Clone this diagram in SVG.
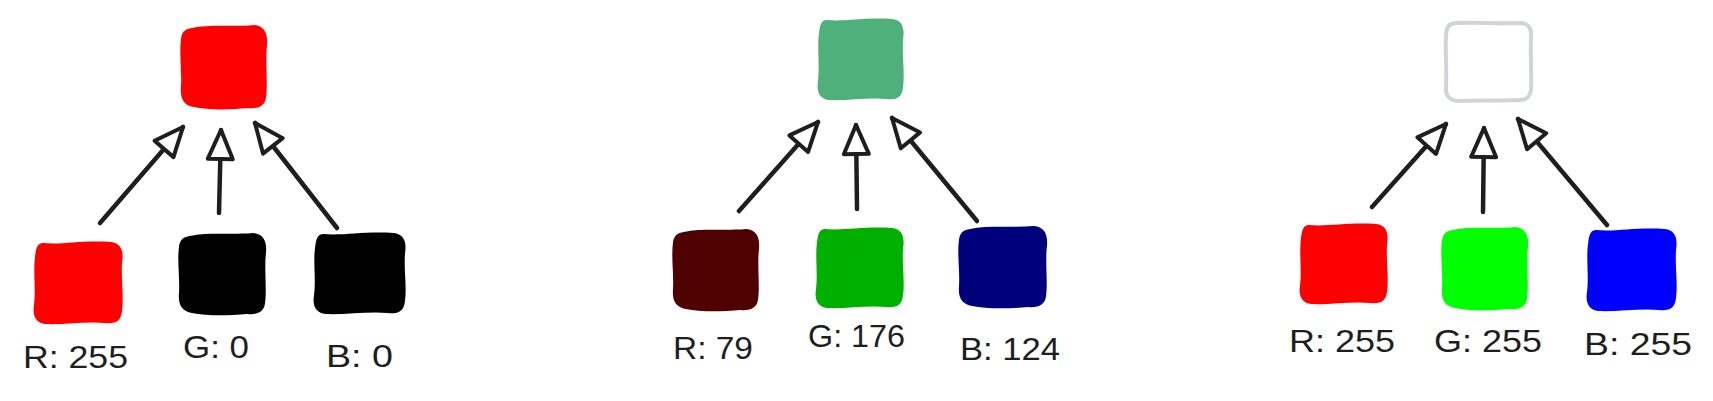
<svg xmlns="http://www.w3.org/2000/svg" width="1713" height="401" viewBox="0 0 1713 401">
<style>
.lbl{font-family:"Liberation Sans","DejaVu Sans",sans-serif;font-size:31px;fill:#1e1e1e}
.conn{stroke:#1e1e1e;stroke-width:4.5;fill:none;stroke-linecap:round;marker-end:url(#ah)}
</style>
<defs>
<path id="wa" d="M 12,3 C 30,-1 55,2 76,0 C 86,1 90,8 89,20 C 87,36 90,58 88,72 C 87,81 80,84 70,83 C 50,85 28,85 14,82 C 4,80 0,74 1,62 C 2,46 -1,28 1,14 C 2,6 6,4 12,3 Z"/>
<path id="wb" d="M 10,2 C 28,4 50,-1 78,1 C 88,2 91,10 89,22 C 88,40 91,56 89,70 C 88,80 83,83 72,82 C 55,80 30,84 12,83 C 4,82 -1,76 1,64 C 3,48 0,30 2,16 C 3,6 5,2 10,2 Z"/>
<marker id="ah" markerUnits="userSpaceOnUse" viewBox="-40 -20 46 40" refX="0" refY="0" markerWidth="46" markerHeight="40" orient="auto" overflow="visible">
<path d="M -29,-12.5 L 0,0 L -29,12.5 Z" fill="#fff" stroke="#1e1e1e" stroke-width="4" stroke-linejoin="round"/>
</marker>
</defs>

<g id="p1-top"><use href="#wa" fill="#ff0000" transform="translate(180,25) scale(0.978,1)"/></g>
<g id="p1-r"><use href="#wb" fill="#ff0000" transform="translate(33,241) scale(1,1)"/><text class="lbl" x="23" y="368" textLength="105" lengthAdjust="spacingAndGlyphs">R: 255</text></g>
<g id="p1-g"><use href="#wa" fill="#000000" transform="translate(178,233) scale(0.989,0.976)"/><text class="lbl" x="183" y="358" textLength="66" lengthAdjust="spacingAndGlyphs">G: 0</text></g>
<g id="p1-b"><use href="#wb" fill="#000000" transform="translate(313,232) scale(1.033,0.988)"/><text class="lbl" x="326" y="367" textLength="67" lengthAdjust="spacingAndGlyphs">B: 0</text></g>

<g id="p2-top"><use href="#wb" fill="#4fb07c" transform="translate(817,18) scale(0.967,0.988)"/></g>
<g id="p2-r"><use href="#wa" fill="#4f0000" transform="translate(672,229) scale(0.978,0.976)"/><text class="lbl" x="673" y="359" textLength="80" lengthAdjust="spacingAndGlyphs">R: 79</text></g>
<g id="p2-g"><use href="#wb" fill="#00b000" transform="translate(815,227) scale(0.989,0.976)"/><text class="lbl" x="808" y="347" textLength="97" lengthAdjust="spacingAndGlyphs">G: 176</text></g>
<g id="p2-b"><use href="#wa" fill="#00007c" transform="translate(958,226) scale(1,0.976)"/><text class="lbl" x="960" y="360" textLength="100" lengthAdjust="spacingAndGlyphs">B: 124</text></g>

<g id="p3-top"><path d="M 1456,23 C 1475,22 1500,24 1520,23 C 1528,23 1532,28 1531,38 C 1530,55 1532,75 1531,90 C 1530,98 1525,101 1515,100 C 1495,101 1475,100 1458,101 C 1449,100 1445,96 1446,86 C 1447,70 1445,50 1446,36 C 1446,27 1450,23 1456,23 Z" fill="none" stroke="#ced4da" stroke-width="4"/></g>
<g id="p3-r"><use href="#wb" fill="#ff0000" transform="translate(1299,223) scale(0.989,0.976)"/><text class="lbl" x="1289" y="352" textLength="106" lengthAdjust="spacingAndGlyphs">R: 255</text></g>
<g id="p3-g"><use href="#wa" fill="#00ff00" transform="translate(1441,227) scale(0.978,0.988)"/><text class="lbl" x="1434" y="352" textLength="108" lengthAdjust="spacingAndGlyphs">G: 255</text></g>
<g id="p3-b"><use href="#wb" fill="#0000ff" transform="translate(1586,228) scale(1.011,1)"/><text class="lbl" x="1584" y="355" textLength="108" lengthAdjust="spacingAndGlyphs">B: 255</text></g>

<g id="connectors">
<path class="conn" d="M 100,223 L 183,127"/>
<path class="conn" d="M 219,213 L 221,130"/>
<path class="conn" d="M 337,228 L 255,123"/>
<path class="conn" d="M 739,211 L 818,122"/>
<path class="conn" d="M 857,209 L 856,125"/>
<path class="conn" d="M 977,221 L 892,118"/>
<path class="conn" d="M 1372,207 L 1446,124"/>
<path class="conn" d="M 1483,212 L 1484,128"/>
<path class="conn" d="M 1607,225 L 1518,119"/>
</g>
</svg>
